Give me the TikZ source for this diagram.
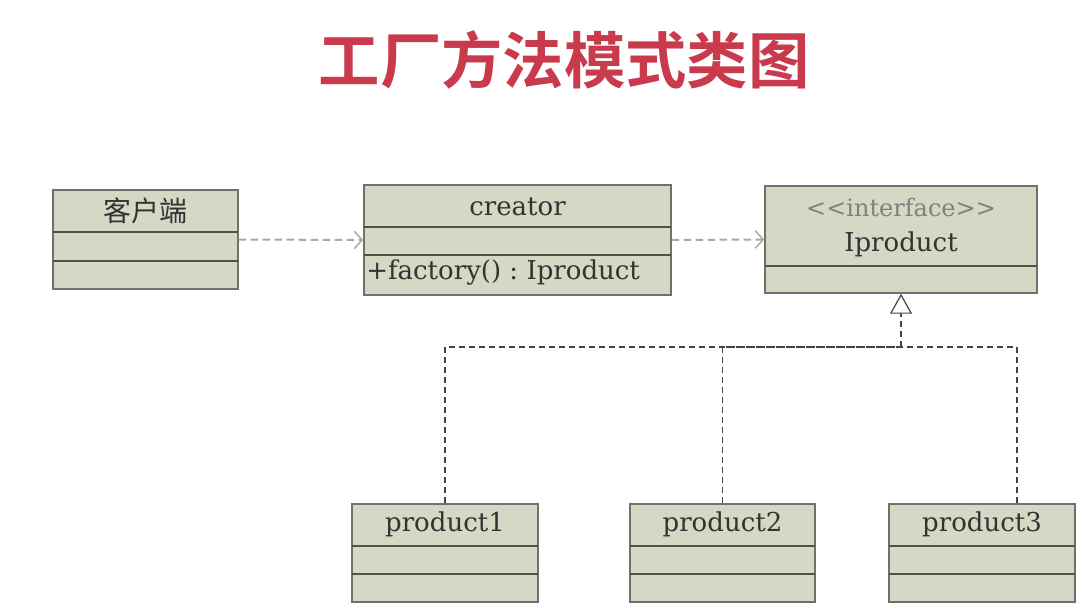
\documentclass[tikz,border=0pt]{standalone}
\usepackage{fontspec}
\setmainfont{DejaVu Serif}
\newfontfamily\cjk{Noto Sans CJK SC}
\newfontfamily\cjkbold{Noto Sans CJK SC Bold}
\usetikzlibrary{arrows.meta,fit,calc}
\definecolor{boxfill}{HTML}{D3D9C4}
\definecolor{boxline}{HTML}{6E716C}
\definecolor{divline}{HTML}{4C5449}
\definecolor{titlered}{HTML}{C93A4C}
\definecolor{depgray}{HTML}{A8A8A8}
\definecolor{realgray}{HTML}{444444}
\tikzset{
  cls/.style={draw=boxline, fill=boxfill, line width=1.1pt, inner sep=0pt, rectangle},
  divider/.style={draw=divline, line width=1.4pt},
  lbl/.style={font=\fontsize{19.5}{22}\selectfont, text=black!80, inner sep=0pt},
  stereo/.style={font=\fontsize{18}{20}\selectfont, text=black!50, inner sep=0pt},
  cjklbl/.style={font=\cjk\fontsize{21}{24}\selectfont, text=black!80, inner sep=0pt},
  titletext/.style={font=\cjkbold\fontsize{46}{52}\selectfont, text=titlered, inner sep=0pt},
  dep/.style={draw=depgray, line width=1.5pt, dash pattern=on 5.5pt off 3.5pt,
    -{Straight Barb[length=6pt, width=13pt, line width=1.1pt]}},
  real/.style={draw=realgray, line width=0.9pt, dash pattern=on 4.5pt off 3pt},
  realtip/.style={real, -{Triangle[open, length=15pt, width=16.5pt, line width=0.9pt, fill=white]}}
}
\begin{document}
\begin{tikzpicture}[x=0.75pt, y=-0.75pt]
\useasboundingbox (0,0) rectangle (1087,610);
% title
\node[titletext] (title) at (564,60) {工厂方法模式类图};
% boxes
\node[cls, fit={(53,190) (238,289)}] (client) {};
\node[cls, fit={(364,185) (671,295)}] (creator) {};
\node[cls, fit={(765,186) (1037,293)}] (iprod) {};
\node[cls, fit={(352,504) (538,602)}] (p1) {};
\node[cls, fit={(630,504) (815,602)}] (p2) {};
\node[cls, fit={(889,504) (1075,602)}] (p3) {};
% dividers
\draw[divider] (53,232) -- (238,232);
\draw[divider] (53,261) -- (238,261);
\draw[divider] (364,227) -- (671,227);
\draw[divider] (364,255) -- (671,255);
\draw[divider] (765,266) -- (1037,266);
\foreach \a/\b in {352/538, 630/815, 889/1075}{
  \draw[divider] (\a,546) -- (\b,546);
  \draw[divider] (\a,574) -- (\b,574);
}
% texts
\node[cjklbl] (clientname) at (145.5,211) {客户端};
\node[lbl] (creatorname) at (517.5,207) {creator};
\node[lbl, anchor=west] (factory) at (366,273) {+factory()\ :\ Iproduct};
\node[stereo] (stereotype) at (901,208) {{<}{<}interface{>}{>}};
\node[lbl] (iprodname) at (901,244) {Iproduct};
\node[lbl] (p1name) at (445,524) {product1};
\node[lbl] (p2name) at (722.5,524) {product2};
\node[lbl] (p3name) at (982,524) {product3};
% dependencies
\draw[dep] (client.east) -- (creator.west);
\draw[dep] (creator.east) -- (iprod.west);
% realization
\coordinate (bus) at (901,347);
\draw[real] (p1.north) |- (bus);
\draw[real] (p2.north) |- (bus);
\draw[real] ($(p3.north)+(35,0)$) |- (bus);
\draw[realtip] (bus) -- (iprod.south);
\end{tikzpicture}
\end{document}
